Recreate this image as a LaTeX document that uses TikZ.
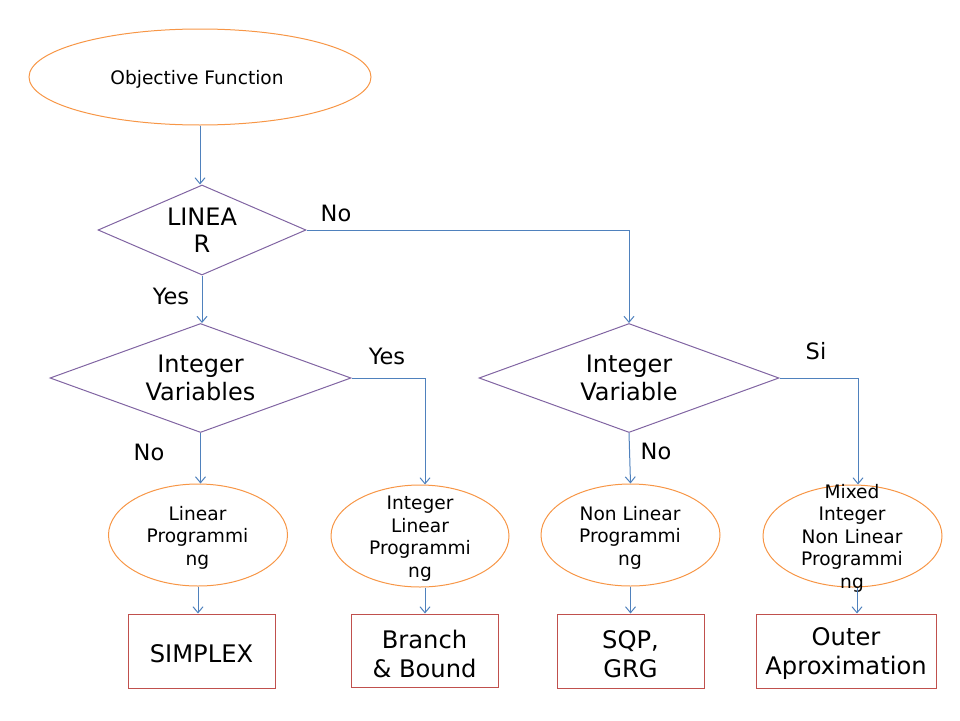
\documentclass[tikz,border=0pt]{standalone}
\usepackage{fontspec}
\setmainfont{DejaVu Sans}
\usetikzlibrary{shapes.geometric,arrows.meta}
\definecolor{corange}{RGB}{247,150,70}
\definecolor{cpurple}{RGB}{128,100,162}
\definecolor{cblue}{RGB}{79,129,189}
\definecolor{cred}{RGB}{192,80,77}
\begin{document}
\begin{tikzpicture}[x=1pt,y=-1pt,
 ell/.style={ellipse,draw=corange,line width=1pt,inner sep=0pt},
 elltext/.style={inner sep=0pt,align=center,yshift=-2pt,font=\fontsize{18.6}{22.5}\selectfont},
 dia/.style={diamond,draw=cpurple,line width=1pt,inner sep=0pt,align=center,font=\fontsize{24}{27.5}\selectfont},
 box/.style={rectangle,draw=cred,line width=1pt,inner sep=0pt},
 boxtext/.style={inner sep=0pt,align=center,yshift=-2.5pt,font=\fontsize{24.2}{29}\selectfont},
 lbl/.style={inner sep=0pt,font=\fontsize{22.5}{26}\selectfont},
 conn/.style={draw=cblue,line width=1pt,-{Straight Barb[length=6pt,width=10pt]}}
]
\useasboundingbox (0,0) rectangle (960,720);
% top ellipse
\node[ell,minimum width=342pt,minimum height=96pt] (obj) at (200,77) {};
\node[elltext] (objt) at (197,77) {Objective Function};
% diamonds
\node[dia,minimum width=208pt,minimum height=90pt,aspect=2.3] (lin) at (202,230) {LINEA\\R};
\node[dia,minimum width=301pt,minimum height=109pt,aspect=2.76] (iv1) at (200.5,378) {Integer\\Variables};
\node[dia,minimum width=300pt,minimum height=109pt,aspect=2.76] (iv2) at (629,378) {Integer\\Variable};
% ellipses
\node[ell,minimum width=179pt,minimum height=102pt] (lp) at (198,535) {};
\node[elltext] (lpt) at (197.5,535.5) {Linear\\Programmi\\ng};
\node[ell,minimum width=178pt,minimum height=102pt] (ilp) at (420,536) {};
\node[elltext] (ilpt) at (420,536.5) {Integer\\Linear\\Programmi\\ng};
\node[ell,minimum width=179pt,minimum height=102pt] (nlp) at (630.5,535) {};
\node[elltext] (nlpt) at (630,535.5) {Non Linear\\Programmi\\ng};
\node[ell,minimum width=179pt,minimum height=102pt] (minlp) at (852.5,536) {};
\node[elltext] (minlpt) at (852,536) {Mixed\\Integer\\Non Linear\\Programmi\\ng};
% boxes
\node[box,minimum width=147pt,minimum height=74pt] (simplex) at (201.5,651) {};
\node[boxtext] (simplext) at (201.5,651) {SIMPLEX};
\node[box,minimum width=147pt,minimum height=73pt] (bb) at (424.5,650.5) {};
\node[boxtext] (bbt) at (424.5,651.5) {Branch\\\&~Bound};
\node[box,minimum width=147pt,minimum height=74pt] (sqp) at (630.5,651) {};
\node[boxtext] (sqpt) at (630.5,651.5) {SQP,\\GRG};
\node[box,minimum width=180pt,minimum height=74pt] (oa) at (846,651) {};
\node[boxtext] (oat) at (846,651.5) {Outer\\Aproximation};
% labels
\node[lbl] (lno) at (336,213) {No};
\node[lbl] (lyes) at (171,296) {Yes};
\node[lbl] (iyes) at (387,356) {Yes};
\node[lbl] (ino) at (149,452) {No};
\node[lbl] (si) at (816,351) {Si};
\node[lbl] (no2) at (656,451) {No};
% connectors
\draw[conn] (obj.south) -- (obj.south |- lin.north);
\draw[conn] (lin.east) -| (iv2.north);
\draw[conn] (lin.south) -- (lin.south |- iv1.north);
\draw[conn] (iv1.south) -- (iv1.south |- lp.north);
\draw[conn] (iv1.east) -| ([xshift=5pt]ilp.north);
\draw[conn] (iv2.south) -- (nlp.north);
\draw[conn] (iv2.east) -| ([xshift=5.5pt]minlp.north);
\draw[conn] (lp.south) -- (lp.south |- simplex.north);
\draw[conn] ([xshift=5pt]ilp.south) -- ([xshift=5pt]ilp.south |- bb.north);
\draw[conn] (nlp.south) -- (nlp.south |- sqp.north);
\draw[conn] ([xshift=4.5pt]minlp.south) -- ([xshift=4.5pt]minlp.south |- oa.north);
\end{tikzpicture}
\end{document}
